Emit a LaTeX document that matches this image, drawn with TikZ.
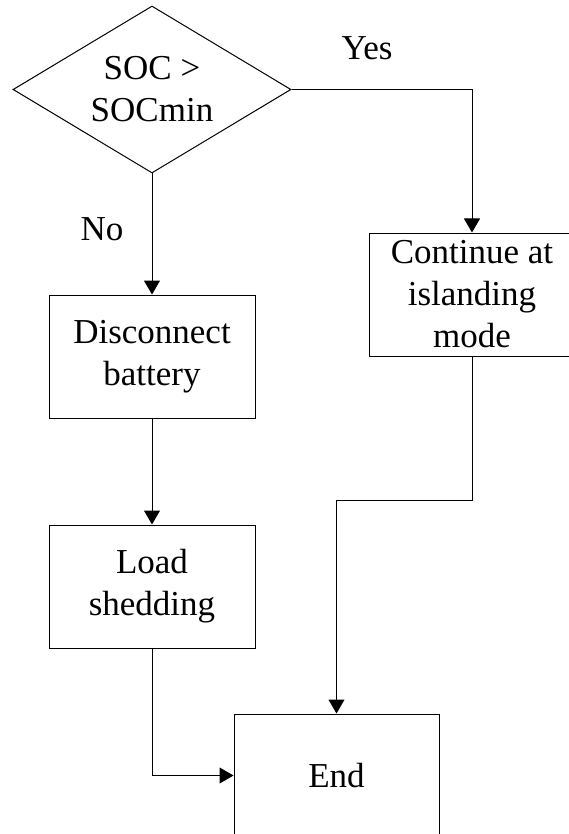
\documentclass[tikz,border=0pt]{standalone}
\usepackage{fontspec}
\setmainfont{Liberation Serif}
\usetikzlibrary{shapes.geometric,arrows.meta}
\tikzstyle{decision}=[
        draw,
        diamond,
        aspect=1.66,
        minimum width=278pt,
        minimum height=167pt,
        inner sep=0pt,
        align=center
]
\tikzstyle{process}=[
        draw,
        rectangle,
        minimum width=206pt,
        minimum height=123pt,
        inner sep=0pt,
        align=center
]
\tikzstyle{flow}=[
        -{Triangle[length=14pt,width=16pt]}
]

\begin{document}
\begin{tikzpicture}[x=1pt,y=-1pt,line width=1pt,
        font=\fontsize{35}{42}\selectfont]
                        \clip (0,0) rectangle (569,834);
                        \useasboundingbox (0,0) rectangle (569,834);

                        \node[decision] (soc) at (152,89.5) {SOC >\\SOCmin};
                        \node[process] (disc) at (152,356.5) {Disconnect\\battery};
                        \node[process] (shed) at (152,586.5) {Load\\shedding};
                        \node[process] (cont) at (472,294.5) {Continue at\\islanding\\mode};
                        \node[process, minimum width=205pt] (end) at (336.5,775.5) {End};

                        \node (yes) at (367,48) {Yes};
                        \node (no) at (102,229) {No};

                        \draw[flow] (soc.east) -| (cont.north);
                        \draw[flow] (soc.south) -- (disc.north);
                        \draw[flow] (disc.south) -- (shed.north);
                        \draw[flow] (shed.south) |- (end.west);
                        \draw[flow] (cont.south) -- ++(0,144) -| (end.north);

                    \end{tikzpicture}
\end{document}
